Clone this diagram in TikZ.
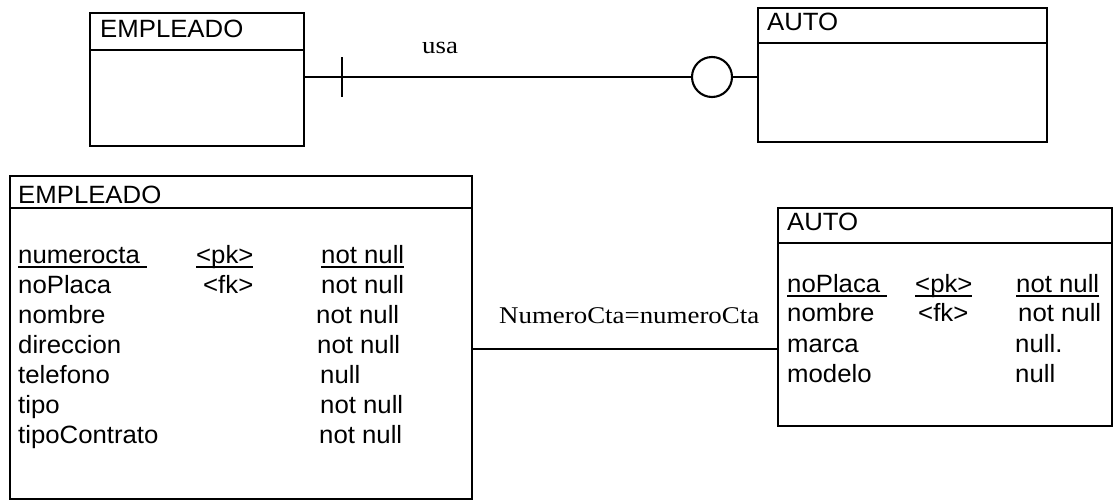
\documentclass[tikz,border=0pt]{standalone}
\usepackage{fontspec}
\setmainfont{Liberation Serif}[FakeStretch=1.12]
\newfontfamily\arialf{Liberation Sans}[FakeStretch=1.03]
\newcommand\myul[1]{\setbox0\hbox{#1}\rlap{\copy0}\rule[-4.6pt]{\wd0}{1.6pt}}
\begin{document}
\begin{tikzpicture}[x=1pt,y=-1pt,
  box/.style={draw, line width=2.1pt, rectangle, inner sep=0pt, outer sep=0pt, anchor=north west},
  conn/.style={line width=2.1pt},
  sep/.style={line width=2.1pt},
  txt/.style={inner sep=0pt, anchor=base west, font=\arialf\fontsize{25}{29}\selectfont},
  rel/.style={inner sep=0pt, anchor=base west, font=\fontsize{24}{28}\selectfont}]
\useasboundingbox (0,0) rectangle (1113,501);
% ---------- top ER diagram ----------
\node[box, minimum width=214pt, minimum height=133pt] (emp1) at (90,13) {};
\draw[sep] (emp1.west |- 0,50) -- (emp1.east |- 0,50);
\node[txt] (emp1t) at (100,37) {EMPLEADO};
\node[box, minimum width=289pt, minimum height=134pt] (auto1) at (758,8) {};
\draw[sep] (auto1.west |- 0,43) -- (auto1.east |- 0,43);
\node[txt] (auto1t) at (767,30) {AUTO};
\node[draw, circle, line width=2.1pt, minimum size=40pt, inner sep=0pt] (circ) at (712,77) {};
\coordinate (tick) at (342,77);
\draw[conn] (emp1.east |- circ) -- (circ.west);
\draw[conn] (circ.east) -- (auto1.west |- circ);
\draw[conn] ([yshift=20pt]tick) -- ([yshift=-20pt]tick);
\node[rel] (usa) at (422,53) {usa};
% ---------- bottom relational diagram ----------
\node[box, minimum width=462pt, minimum height=323pt] (emp2) at (10,176) {};
\draw[sep] (emp2.west |- 0,208) -- (emp2.east |- 0,208);
\node[txt] (emp2t) at (18,203) {EMPLEADO};
\node[txt] (e1) at (18,263) {\myul{numerocta\ }};
\node[txt] (e1k) at (196,263) {\myul{<pk>}};
\node[txt] (e1n) at (321,263) {\myul{not null}};
\node[txt] (e2) at (18,293) {noPlaca};
\node[txt] (e2k) at (203,293) {<fk>};
\node[txt] (e2n) at (321,293) {not null};
\node[txt] (e3) at (18,323) {nombre};
\node[txt] (e3n) at (316,323) {not null};
\node[txt] (e4) at (18,353) {direccion};
\node[txt] (e4n) at (317,353) {not null};
\node[txt] (e5) at (18,383) {telefono};
\node[txt] (e5n) at (320,383) {null};
\node[txt] (e6) at (18,413) {tipo};
\node[txt] (e6n) at (320,413) {not null};
\node[txt] (e7) at (18,443) {tipoContrato};
\node[txt] (e7n) at (319,443) {not null};
\node[box, minimum width=334pt, minimum height=218pt] (auto2) at (778,208) {};
\draw[sep] (auto2.west |- 0,243) -- (auto2.east |- 0,243);
\node[txt] (auto2t) at (787,230) {AUTO};
\node[txt] (a1) at (787,292) {\myul{noPlaca\ }};
\node[txt] (a1k) at (915,292) {\myul{<pk>}};
\node[txt] (a1n) at (1016,292) {\myul{not null}};
\node[txt] (a2) at (787,321) {nombre};
\node[txt] (a2k) at (918,321) {<fk>};
\node[txt] (a2n) at (1018,321) {not null};
\node[txt] (a3) at (787,352) {marca};
\node[txt] (a3n) at (1015,352) {null.};
\node[txt] (a4) at (787,382) {modelo};
\node[txt] (a4n) at (1015,382) {null};
\coordinate (relc) at (600,349);
\draw[conn] (emp2.east |- relc) -- (auto2.west |- relc);
\node[rel] (relt) at (499,323) {NumeroCta=numeroCta};
\end{tikzpicture}
\end{document}
